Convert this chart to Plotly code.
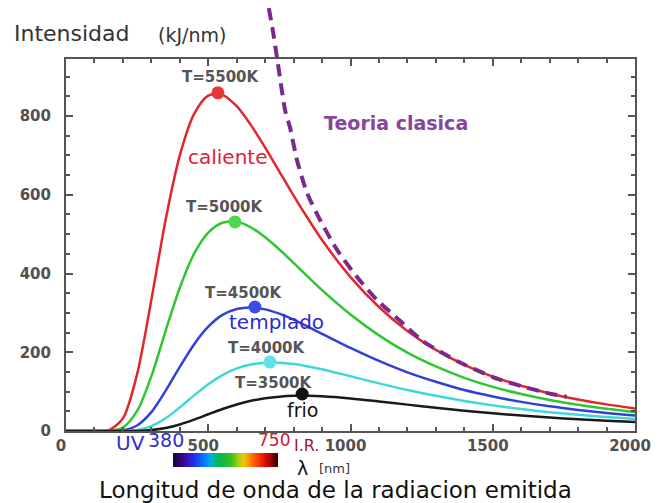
import plotly.graph_objects as go

# ---------------- data ----------------
wavelength_nm = [0, 100, 150, 200, 250, 300, 350, 400, 450, 500, 550, 600, 650, 700, 750,
                 800, 850, 900, 1000, 1100, 1200, 1300, 1400, 1500, 1600, 1700, 1800, 1900, 2000]

intensity_5500K = [0, 0, 1.7, 32, 145, 333, 536, 700, 805, 852, 854, 825, 777, 720, 659,
                   598, 540, 485, 391, 315, 254, 206, 168, 138, 115, 95.5, 80.1, 67.6, 57.4]
intensity_5000K = [0, 0, 0.3, 8.7, 51, 139, 254, 364, 450, 504, 529, 532, 517, 492, 461,
                   427, 392, 358, 296, 243, 199, 164, 135, 112, 93.9, 78.8, 66.5, 56.5, 48.2]
intensity_4500K = [0, 0, 0, 1.8, 14.1, 47.9, 102, 163, 220, 265, 295, 310, 314, 309, 298,
                   283, 265, 247, 211, 178, 149, 125, 104, 87.7, 74.0, 62.7, 53.4, 45.6, 39.2]
intensity_4000K = [0, 0, 0, 0.2, 2.9, 12.6, 32.4, 60, 90.5, 119, 142, 159, 169, 173.5, 173.5,
                   170, 164, 157, 139, 121, 104, 89.3, 76.2, 65.1, 55.6, 47.7, 41.0, 35.4, 30.6]
intensity_3500K = [0, 0, 0, 0, 0.3, 2.3, 7.5, 16.7, 29, 42.6, 55.9, 67.5, 76.7, 83.3, 87.3,
                   89.3, 89.4, 88.1, 82.6, 75.1, 67, 59, 51.6, 45, 39.2, 34.1, 29.8, 26, 22.7]

peak_labels = ["T=5500K", "T=5000K", "T=4500K", "T=4000K", "T=3500K"]
peak_x = [534, 594, 664, 717, 830]
peak_y = [859, 531, 315, 175, 94]

classic_x = [713, 728, 742, 770, 787, 812, 847, 893, 953, 1023, 1093, 1174, 1255, 1339, 1374,
             1500, 1600, 1700, 1760]
classic_y = [1074, 1013, 947, 815, 772, 688, 605, 536, 460, 391, 333, 280, 228, 192, 178,
             137, 114, 95, 87]

spectrum_nm = list(range(380, 751, 5))

x_ticks = [0, 500, 1000, 1500, 2000]
y_ticks = [0, 200, 400, 600, 800]

# ---------------- layout helpers ----------------
W, H = 667, 503
def px(x):
    return x / W
def py(y):
    return 1 - y / H

X_DOM = [px(66), px(635)]
Y_DOM = [py(431), py(59)]
Y_MAX = 945
Y_MAX2 = Y_MAX * (1 - Y_DOM[0]) / (Y_DOM[1] - Y_DOM[0])

series = [
    (intensity_5500K, "#e3262d", "#e53935"),
    (intensity_5000K, "#2fc62f", "#4cd64c"),
    (intensity_4500K, "#3040d8", "#3b4ce0"),
    (intensity_4000K, "#3ed8d8", "#5fe3ea"),
    (intensity_3500K, "#1a1a1a", "#111111"),
]

fig = go.Figure()
for vals, lc, mc in series:
    fig.add_trace(go.Scatter(x=wavelength_nm, y=vals, mode="lines",
                             line=dict(color=lc, width=2.5, shape="spline", smoothing=0.8),
                             hoverinfo="skip", showlegend=False))
for i, (vals, lc, mc) in enumerate(series):
    fig.add_trace(go.Scatter(x=[peak_x[i]], y=[peak_y[i]], mode="markers",
                             marker=dict(color=mc, size=13), showlegend=False,
                             hoverinfo="skip"))

# classical theory (own overlay axes so it can rise above the frame)
fig.add_trace(go.Scatter(x=classic_x, y=classic_y, mode="lines", xaxis="x2", yaxis="y2",
                         line=dict(color="#7a2a8a", width=4, dash="12px,7px",
                                   shape="spline", smoothing=0.6),
                         showlegend=False, hoverinfo="skip"))

# spectrum strip
fig.add_trace(go.Heatmap(x=spectrum_nm, y=[0], z=[spectrum_nm], xaxis="x3", yaxis="y3",
                         showscale=False, hoverinfo="skip",
                         colorscale=[[0, "#200040"], [0.1, "#3a0890"], [0.2, "#2030f0"],
                                     [0.3, "#0080ff"], [0.36, "#00b0e0"], [0.42, "#00b860"],
                                     [0.55, "#30c020"], [0.63, "#b0d010"], [0.68, "#f0c800"],
                                     [0.76, "#ff6a00"], [0.86, "#f01808"], [0.94, "#a00000"],
                                     [1, "#300000"]]))

tickfont = dict(family="DejaVu Sans", size=15, color="#505050", weight="bold")
axis_common = dict(showgrid=False, zeroline=False, showline=True, linecolor="#555555",
                   linewidth=2, mirror="ticks", ticks="inside", tickcolor="#555555",
                   tickwidth=1.5, ticklen=7, tickfont=tickfont, automargin=False)

fig.update_layout(
    width=W, height=H, autosize=False,
    margin=dict(l=0, r=0, t=0, b=0),
    paper_bgcolor="white", plot_bgcolor="rgba(0,0,0,0)",
    xaxis=dict(domain=X_DOM, range=[0, 2000], tickvals=x_ticks, ticklabelshift=-5,
               minor=dict(dtick=100, ticks="inside", ticklen=4, tickcolor="#555555"),
               anchor="y", **axis_common),
    yaxis=dict(domain=Y_DOM, range=[0, Y_MAX], tickvals=y_ticks, ticklabelstandoff=10,
               minor=dict(dtick=50, ticks="inside", ticklen=4, tickcolor="#555555"),
               anchor="x", **axis_common),
    xaxis2=dict(domain=X_DOM, range=[0, 2000], visible=False, anchor="y2"),
    yaxis2=dict(domain=[Y_DOM[0], 1], range=[0, Y_MAX2], visible=False, anchor="x2"),
    xaxis3=dict(domain=[px(173), px(278)], visible=False, anchor="y3"),
    yaxis3=dict(domain=[py(467), py(453)], visible=False, anchor="x3"),
)

ann = []
def add_text(text, x, y, size, color, bold=False, xanchor="center"):
    ann.append(dict(text=text, x=px(x), y=py(y), xref="paper", yref="paper",
                    xanchor=xanchor, yanchor="middle", showarrow=False,
                    font=dict(family="DejaVu Sans", size=size, color=color,
                              weight="bold" if bold else "normal")))

add_text("Intensidad", 12, 33, 22, "#333333", xanchor="left")
add_text("(kJ/nm)", 156, 35, 19, "#333333", xanchor="left")
label_pos = [(221, 77), (225, 207), (244, 293), (267, 348), (274, 383)]
for lab, (lx, ly) in zip(peak_labels, label_pos):
    add_text(lab, lx, ly, 15, "#555555", bold=True)
add_text("caliente", 228, 157, 20, "#dc2040")
add_text("Teoria clasica", 396, 123, 19, "#8a44a0", bold=True)
add_text("templado", 276, 322, 20, "#2b2bcf")
add_text("frio", 302, 410, 19, "#111111")
add_text("UV", 130, 443, 20, "#3030c8")
add_text("380", 166, 440, 19, "#3030c8")
add_text("750", 274, 440, 17, "#c82030")
add_text("I.R.", 306, 445, 16, "#a0182a")
add_text("λ", 302, 468, 19, "#111111")
add_text("[nm]", 334, 468, 13, "#333333")
add_text("Longitud de onda de la radiacion emitida", 335, 490, 23, "#111111")
fig.update_layout(annotations=ann)

fig.write_html("out.html")
